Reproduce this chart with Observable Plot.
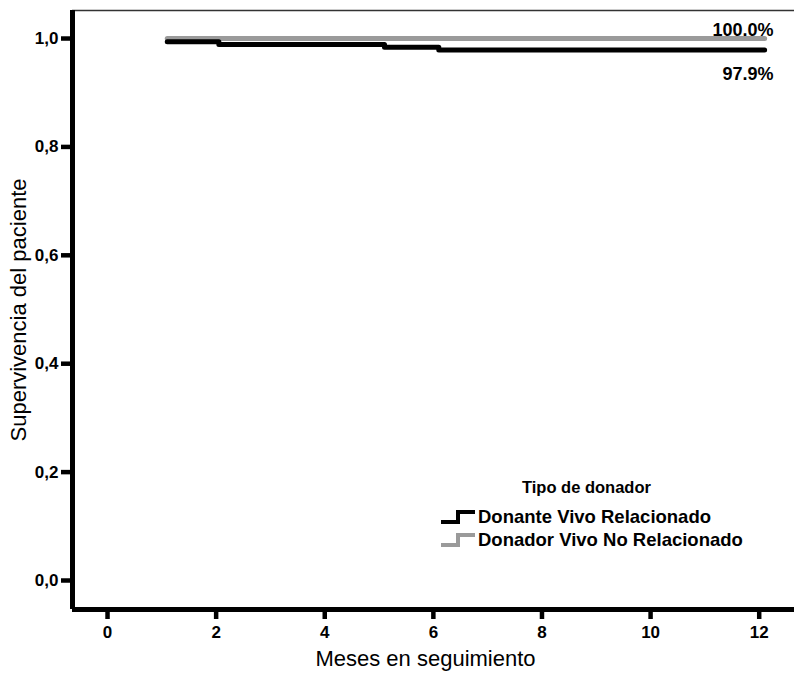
<!DOCTYPE html>
<html>
<head>
<meta charset="utf-8">
<script src="https://cdn.jsdelivr.net/npm/d3@7"></script>
<script src="https://cdn.jsdelivr.net/npm/@observablehq/plot@0.6"></script>
<style>
  html, body { margin: 0; padding: 0; background: #fff; }
  #wrap { position: relative; width: 794px; height: 683px; font-family: "Liberation Sans", Arial, sans-serif; }
  #legend { position: absolute; left: 440px; top: 476px; color: #000; }
  #legend .title { font-size: 16.5px; font-weight: bold; margin-left: 82px; line-height: 22px; margin-bottom: 7px; }
  #legend .item { display: flex; align-items: center; font-size: 18.5px; font-weight: bold; height: 23px; white-space: nowrap; }
  #legend svg { margin-right: 2px; }
</style>
</head>
<body>
<div id="wrap"></div>
<script>
// ---- data ----
const seriesNames = ["Donante Vivo Relacionado", "Donador Vivo No Relacionado"];
const seriesColors = ["#000000", "#9a9a9a"];
const monthsRelated = [1.1, 2.05, 5.1, 6.1, 12.1];
const survRelated   = [0.994, 0.989, 0.984, 0.979, 0.979];
const monthsUnrelated = [1.1, 12.1];
const survUnrelated   = [1.0, 1.0];
const endLabels = ["97.9%", "100.0%"];
const xTicks = [0, 2, 4, 6, 8, 10, 12];
const yTicks = [0, 0.2, 0.4, 0.6, 0.8, 1.0];
const xLabel = "Meses en seguimiento";
const yLabel = "Supervivencia del paciente";
const legendTitle = "Tipo de donador";

const rows = [
  ...monthsRelated.map((m, i) => ({serie: seriesNames[0], mes: m, s: survRelated[i]})),
  ...monthsUnrelated.map((m, i) => ({serie: seriesNames[1], mes: m, s: survUnrelated[i]}))
];
const ends = [
  {serie: seriesNames[0], mes: monthsRelated[monthsRelated.length - 1], s: survRelated[survRelated.length - 1], label: endLabels[0]},
  {serie: seriesNames[1], mes: monthsUnrelated[monthsUnrelated.length - 1], s: survUnrelated[survUnrelated.length - 1], label: endLabels[1]}
];

const xDom = [-0.645, 12.65];
const yDom = [-0.0535, 1.0517];
const fmt = d => d.toFixed(1).replace(".", ",");

const chart = Plot.plot({
  width: 794,
  height: 683,
  marginLeft: 72,
  marginRight: 0,
  marginTop: 10,
  marginBottom: 74,
  style: {fontFamily: "'Liberation Sans', Arial, sans-serif", background: "#fff", color: "#000", overflow: "visible"},
  x: {domain: xDom},
  y: {domain: yDom},
  color: {domain: seriesNames, range: seriesColors},
  marks: [
    // top thin frame line
    Plot.ruleY([yDom[1]], {stroke: "#333", strokeWidth: 1.5}),
    // survival curves
    Plot.line(rows.filter(d => d.serie === seriesNames[1]), {x: "mes", y: "s", stroke: "serie", curve: "step-after", strokeWidth: 5}),
    Plot.line(rows.filter(d => d.serie === seriesNames[0]), {x: "mes", y: "s", stroke: "serie", curve: "step-after", strokeWidth: 5}),
    // end labels
    Plot.text(ends.filter(d => d.serie === seriesNames[1]), {x: "mes", y: "s", text: "label", textAnchor: "end", dx: 9, dy: -8, fontSize: 18, fontWeight: "bold", fill: "#000"}),
    Plot.text(ends.filter(d => d.serie === seriesNames[0]), {x: "mes", y: "s", text: "label", textAnchor: "end", dx: 9, dy: 24, fontSize: 18, fontWeight: "bold", fill: "#000"}),
    // axes
    Plot.axisY({ticks: yTicks, tickFormat: fmt, tickSize: 11, tickPadding: 3, strokeWidth: 4.5, fontSize: 17, fontWeight: "bold", label: null}),
    Plot.axisX({ticks: xTicks, tickFormat: d => String(d), tickSize: 10, tickPadding: 6, strokeWidth: 4.5, fontSize: 17, fontWeight: "bold", label: null}),
    Plot.ruleX([xDom[0]], {stroke: "#000", strokeWidth: 5}),
    Plot.ruleY([yDom[0]], {stroke: "#000", strokeWidth: 5}),
    // axis titles
    Plot.text([yLabel], {frameAnchor: "left", text: d => d, rotate: -90, textAnchor: "middle", dx: -54, dy: 0, fontSize: 22, fill: "#000"}),
    Plot.text([xLabel], {frameAnchor: "bottom", text: d => d, textAnchor: "middle", dy: 56, dx: -8, fontSize: 22, fill: "#000"})
  ]
});

const wrap = document.getElementById("wrap");
wrap.appendChild(chart);

// legend
const legend = document.createElement("div");
legend.id = "legend";
const t = document.createElement("div");
t.className = "title";
t.textContent = legendTitle;
legend.appendChild(t);
seriesNames.forEach((name, i) => {
  const item = document.createElement("div");
  item.className = "item";
  const sym = d3.create("svg").attr("width", 36).attr("height", 16);
  sym.append("path")
    .attr("d", "M1,13 H18 V3 H35")
    .attr("fill", "none")
    .attr("stroke", seriesColors[i])
    .attr("stroke-width", 4);
  item.appendChild(sym.node());
  const span = document.createElement("span");
  span.textContent = name;
  item.appendChild(span);
  legend.appendChild(item);
});
wrap.appendChild(legend);
</script>
</body>
</html>
